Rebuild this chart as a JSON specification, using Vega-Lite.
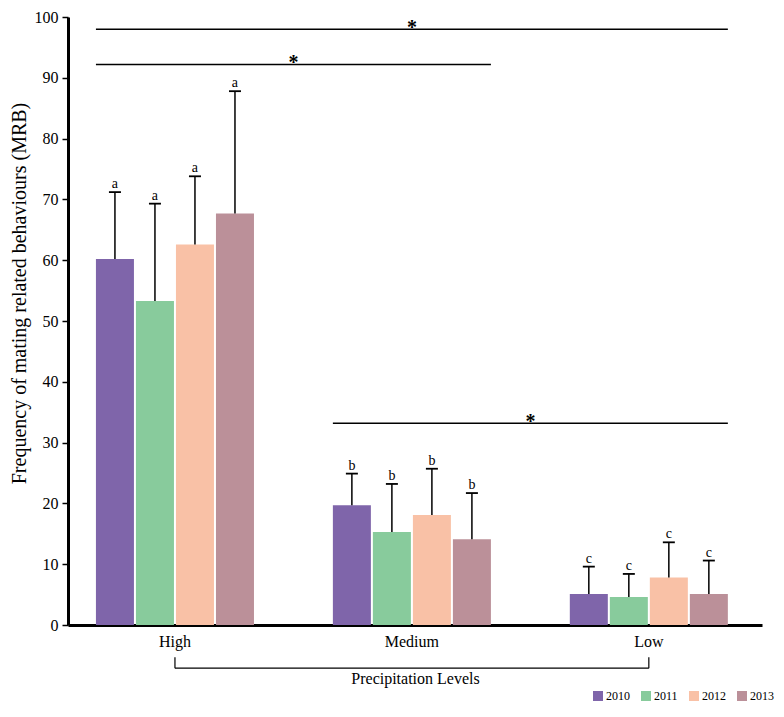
{
  "$schema": "https://vega.github.io/schema/vega-lite/v6.json",
  "width": 694,
  "height": 608,
  "autosize": {"type": "none"},
  "padding": {"left": 68, "top": 17, "right": 22, "bottom": 92},
  "background": "white",
  "config": {
    "font": "Liberation Serif",
    "text": {"font": "Liberation Serif"},
    "view": {"stroke": null},
    "axis": {"grid": false, "labelFont": "Liberation Serif", "titleFont": "Liberation Serif", "labelColor": "black", "titleColor": "black", "domainColor": "black", "tickColor": "black", "titleFontWeight": "normal"},
    "legend": {"labelFont": "Liberation Serif", "titleFont": "Liberation Serif"}
  },
  "datasets": {
    "bars": [
      {"level": "High", "year": "2010", "mean": 60.2, "upper": 71.2, "letter": "a"},
      {"level": "High", "year": "2011", "mean": 53.3, "upper": 69.3, "letter": "a"},
      {"level": "High", "year": "2012", "mean": 62.6, "upper": 73.8, "letter": "a"},
      {"level": "High", "year": "2013", "mean": 67.7, "upper": 87.8, "letter": "a"},
      {"level": "Medium", "year": "2010", "mean": 19.7, "upper": 24.9, "letter": "b"},
      {"level": "Medium", "year": "2011", "mean": 15.3, "upper": 23.2, "letter": "b"},
      {"level": "Medium", "year": "2012", "mean": 18.1, "upper": 25.7, "letter": "b"},
      {"level": "Medium", "year": "2013", "mean": 14.1, "upper": 21.7, "letter": "b"},
      {"level": "Low", "year": "2010", "mean": 5.1, "upper": 9.6, "letter": "c"},
      {"level": "Low", "year": "2011", "mean": 4.6, "upper": 8.4, "letter": "c"},
      {"level": "Low", "year": "2012", "mean": 7.8, "upper": 13.6, "letter": "c"},
      {"level": "Low", "year": "2013", "mean": 5.1, "upper": 10.6, "letter": "c"}
    ],
    "sig": [
      {"from": "High", "to": "Low", "y": 98.0, "star_at": "Medium", "star_pos": "center"},
      {"from": "High", "to": "Medium", "y": 92.2, "star_at": "High", "star_pos": "between"},
      {"from": "Medium", "to": "Low", "y": 33.2, "star_at": "Medium", "star_pos": "between"}
    ],
    "bracket": [
      {"from": "High", "to": "Low", "y": -7.1, "tip": -5.3}
    ]
  },
  "layer": [
    {
      "data": {"name": "bars"},
      "mark": {"type": "bar"},
      "encoding": {
        "x": {
          "field": "level", "type": "nominal", "sort": ["High", "Medium", "Low"],
          "scale": {"domain": ["High", "Medium", "Low"], "paddingInner": 0.333, "paddingOuter": 0.131, "align": 0.45},
          "axis": {"title": "Precipitation Levels", "labelAngle": 0, "ticks": false, "domainWidth": 3, "labelFontSize": 16, "labelPadding": 8, "titleFontSize": 16, "titlePadding": 21}
        },
        "xOffset": {"field": "year", "type": "nominal", "scale": {"paddingInner": 0.05}},
        "y": {
          "field": "mean", "type": "quantitative", "stack": null,
          "scale": {"domain": [0, 100], "nice": false},
          "axis": {"title": "Frequency of mating related behaviours (MRB)", "values": [0,10,20,30,40,50,60,70,80,90,100], "domainWidth": 3, "tickSize": 6, "tickWidth": 1.5, "labelFontSize": 16, "labelPadding": 4, "titleFontSize": 20, "titlePadding": 5, "titleY": 276}
        },
        "color": {
          "field": "year", "type": "nominal",
          "scale": {"domain": ["2010", "2011", "2012", "2013"], "range": ["#7f65aa", "#88cb9c", "#f9c1a6", "#bb9099"]},
          "legend": {"title": null, "orient": "none", "legendX": 524, "legendY": 673, "direction": "horizontal", "columns": 4, "symbolType": "square", "symbolSize": 100, "symbolStrokeWidth": 0, "labelFontSize": 12, "labelOffset": 2, "columnPadding": 10, "labelColor": "black"}
        }
      }
    },
    {
      "data": {"name": "bars"},
      "mark": {"type": "rule", "color": "black", "strokeWidth": 1.5},
      "encoding": {
        "x": {"field": "level", "type": "nominal"},
        "xOffset": {"field": "year", "type": "nominal"},
        "y": {"field": "mean", "type": "quantitative"},
        "y2": {"field": "upper"}
      }
    },
    {
      "data": {"name": "bars"},
      "mark": {"type": "tick", "color": "black", "thickness": 1.8, "size": 12, "opacity": 1},
      "encoding": {
        "x": {"field": "level", "type": "nominal"},
        "xOffset": {"field": "year", "type": "nominal"},
        "y": {"field": "upper", "type": "quantitative"}
      }
    },
    {
      "data": {"name": "bars"},
      "mark": {"type": "text", "baseline": "bottom", "dy": -1, "fontSize": 14, "color": "black", "font": "Liberation Serif"},
      "encoding": {
        "x": {"field": "level", "type": "nominal"},
        "xOffset": {"field": "year", "type": "nominal"},
        "y": {"field": "upper", "type": "quantitative"},
        "text": {"field": "letter"}
      }
    },
    {
      "data": {"name": "sig"},
      "mark": {"type": "rule", "color": "black", "strokeWidth": 1.5},
      "encoding": {
        "x": {"field": "from", "type": "nominal", "bandPosition": 0},
        "x2": {"field": "to", "bandPosition": 1},
        "y": {"field": "y", "type": "quantitative"}
      }
    },
    {
      "data": {"name": "sig"},
      "transform": [{"filter": "datum.star_pos === 'center'"}],
      "mark": {"type": "text", "text": "*", "fontSize": 20, "baseline": "alphabetic", "dy": 5, "color": "black", "font": "Liberation Serif", "fontWeight": "bold"},
      "encoding": {
        "x": {"field": "star_at", "type": "nominal", "bandPosition": 0.5},
        "y": {"field": "y", "type": "quantitative"}
      }
    },
    {
      "data": {"name": "sig"},
      "transform": [{"filter": "datum.star_pos === 'between'"}],
      "mark": {"type": "text", "text": "*", "fontSize": 20, "baseline": "alphabetic", "dy": 5, "color": "black", "font": "Liberation Serif", "fontWeight": "bold"},
      "encoding": {
        "x": {"field": "star_at", "type": "nominal", "bandPosition": 1.25},
        "y": {"field": "y", "type": "quantitative"}
      }
    },
    {
      "data": {"name": "bracket"},
      "mark": {"type": "rule", "color": "black", "strokeWidth": 1.2},
      "encoding": {
        "x": {"field": "from", "type": "nominal"},
        "x2": {"field": "to"},
        "y": {"field": "y", "type": "quantitative"}
      }
    },
    {
      "data": {"name": "bracket"},
      "mark": {"type": "rule", "color": "black", "strokeWidth": 1.2},
      "encoding": {
        "x": {"field": "from", "type": "nominal"},
        "y": {"field": "y", "type": "quantitative"},
        "y2": {"field": "tip"}
      }
    },
    {
      "data": {"name": "bracket"},
      "mark": {"type": "rule", "color": "black", "strokeWidth": 1.2},
      "encoding": {
        "x": {"field": "to", "type": "nominal"},
        "y": {"field": "y", "type": "quantitative"},
        "y2": {"field": "tip"}
      }
    }
  ]
}
